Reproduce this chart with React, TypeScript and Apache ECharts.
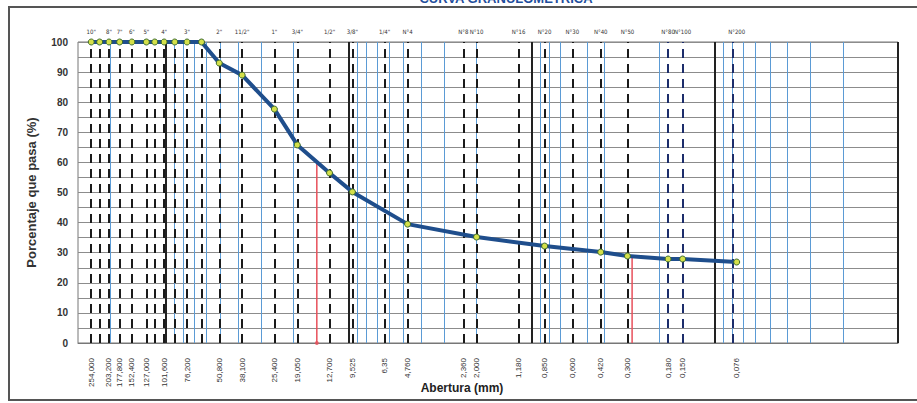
import React, { useEffect, useRef } from "react";
import * as echarts from "echarts";

// Sieve openings that carry labels (mm) and their labels
const labeledSizes = [254, 203.2, 177.8, 152.4, 127, 101.6, 76.2, 50.8, 38.1, 25.4, 19.05, 12.7, 9.525, 6.35, 4.76, 2.36, 2.0, 1.18, 0.85, 0.6, 0.42, 0.3, 0.18, 0.15, 0.076];
const topLabels = ['10"', '8"', '7"', '6"', '5"', '4"', '3"', '2"', '11/2"', '1"', '3/4"', '1/2"', '3/8"', '1/4"', 'N°4', 'N°8', 'N°10', 'N°16', 'N°20', 'N°30', 'N°40', 'N°50', 'N°80', 'N°100', 'N°200'];
const bottomLabels = ['254,000', '203,200', '177,800', '152,400', '127,000', '101,600', '76,200', '50,800', '38,100', '25,400', '19,050', '12,700', '9,525', '6,35', '4,760', '2,360', '2,000', '1,180', '0,850', '0,600', '0,420', '0,300', '0,180', '0,150', '0,076'];

// Sieve lines (dashed)
const sieveLinesBlack = [254, 228.6, 203.2, 177.8, 152.4, 127, 114.3, 101.6, 88.9, 76.2, 63.5, 50.8, 38.1, 25.4, 19.05, 12.7, 9.525, 6.35, 4.76, 2.36, 2.0, 1.18, 0.85, 0.6, 0.42, 0.3];
const sieveLinesNavy = [0.18, 0.15, 0.076];
// Decade lines (solid) and log minor grid (blue)
const decadeLines = [100, 10, 1, 0.1];
const minorLines = [
  200, 90, 80, 70, 60, 50, 40, 30, 20,
  9, 8, 7, 6, 5, 4, 3, 2,
  0.9, 0.8, 0.7, 0.5, 0.4, 0.2,
  0.09, 0.08, 0.07, 0.06, 0.05, 0.04, 0.03, 0.02,
];

// Grading curve
const curveSizes = [254, 228.6, 203.2, 177.8, 152.4, 127, 114.3, 101.6, 88.9, 76.2, 63.5, 50.8, 38.1, 25.4, 19.05, 12.7, 9.525, 4.76, 2.0, 0.85, 0.42, 0.3, 0.18, 0.15, 0.076];
const curvePass = [100, 100, 100, 100, 100, 100, 100, 100, 100, 100, 100, 93.0, 89.0, 77.7, 65.8, 56.5, 50.2, 39.5, 35.2, 32.2, 30.2, 28.9, 27.9, 27.9, 26.9];

// D60 / D30 markers
const d60 = [14.9, 59.8];
const d30 = [0.283, 28.8];

const FONT = "'Liberation Sans', Arial, sans-serif";
const NARROW = "'Liberation Sans Narrow', 'DejaVu Sans Condensed', 'Liberation Sans', sans-serif";

function nearestIndex(v: number) {
  let best = 0;
  let bd = Infinity;
  labeledSizes.forEach((s, i) => {
    const d = Math.abs(Math.log(s) - Math.log(v));
    if (d < bd) { bd = d; best = i; }
  });
  return best;
}

export default function App() {
  const ref = useRef<HTMLDivElement>(null);
  useEffect(() => {
    document.body.style.margin = "0";
    const chart = echarts.init(ref.current!, null, { renderer: "svg" });
    const xBase = {
      type: "log" as const,
      logBase: 10,
      min: 0.01,
      max: 300,
      inverse: true,
    };
    const vline = (vals: number[], style: any) =>
      vals.map((v) => ({ xAxis: v, lineStyle: style }));
    chart.setOption({
      animation: false,
      backgroundColor: "#ffffff",
      grid: { left: 78, top: 42, width: 820, height: 301, show: true, borderColor: "#777", borderWidth: 1 },
      xAxis: [
        {
          ...xBase,
          position: "bottom",
          axisLine: { show: true, lineStyle: { color: "#777" } },
          axisTick: { show: false },
          splitLine: { show: false },
          minorSplitLine: { show: false },
          axisLabel: {
            customValues: labeledSizes,
            rotate: 90,
            fontSize: 8,
            margin: 15,
            color: "#333",
            fontFamily: FONT,
            formatter: (v: number) => bottomLabels[nearestIndex(v)],
          },
        },
        {
          ...xBase,
          position: "top",
          axisLine: { show: false },
          axisTick: { show: false },
          splitLine: { show: false },
          axisLabel: {
            customValues: labeledSizes,
            fontSize: 6,
            margin: 8,
            color: "#333",
            fontFamily: NARROW,
            formatter: (v: number) => topLabels[nearestIndex(v)],
          },
        },
      ],
      yAxis: {
        type: "value",
        min: 0,
        max: 100,
        interval: 10,
        name: "Porcentaje que pasa (%)",
        nameLocation: "middle",
        nameGap: 40,
        nameTextStyle: { fontSize: 13, fontWeight: "bold", color: "#333", fontFamily: FONT },
        axisLine: { show: false },
        axisTick: { show: false },
        axisLabel: { fontSize: 10, fontWeight: "bold", color: "#333", margin: 10, fontFamily: FONT },
        splitLine: { show: true, lineStyle: { color: "#8c8c8c", width: 1 } },
        minorTick: { show: false, splitNumber: 2 },
        minorSplitLine: { show: true, lineStyle: { color: "#8c8c8c", width: 1 } },
      },
      series: [
        {
          type: "line",
          data: [],
          z: 1,
          silent: true,
          markLine: {
            silent: true,
            symbol: ["none", "none"],
            label: { show: false },
            animation: false,
            data: [
              ...vline(minorLines, { color: "#5b9bd5", width: 1, type: "solid" }),
              ...vline(decadeLines, { color: "#222", width: 2, type: "solid" }),
              ...vline(sieveLinesBlack, { color: "#1a1a1a", width: 2, type: [9, 6] }),
              ...vline(sieveLinesNavy, { color: "#1c2d6b", width: 2, type: [9, 6] }),
              ...vline([0.01], { color: "#222", width: 2, type: "solid" }),
            ],
          },
        },
        {
          type: "line",
          data: [[d60[0], 0], [d60[0], d60[1]]],
          z: 3,
          symbol: "none",
          lineStyle: { color: "#e8505b", width: 1.5 },
        },
        {
          type: "line",
          data: [[d30[0], 0], [d30[0], d30[1]]],
          z: 3,
          symbol: "none",
          lineStyle: { color: "#e8505b", width: 1.5 },
        },
        {
          type: "scatter",
          data: [[d60[0], 0]],
          z: 4,
          symbolSize: 4,
          itemStyle: { color: "#e8505b" },
        },
        {
          type: "line",
          z: 10,
          data: curveSizes.map((s, i) => [s, curvePass[i]]),
          symbol: "circle",
          symbolSize: 6,
          lineStyle: { color: "#1f4e8c", width: 4 },
          itemStyle: { color: "#d4e04a", borderColor: "#3c6b2c", borderWidth: 1 },
        },
      ],
      graphic: [
        {
          type: "rect",
          shape: { x: 9, y: 7, width: 920, height: 393 },
          style: { fill: "none", stroke: "#555", lineWidth: 2 },
          silent: true,
        },
        {
          type: "text",
          x: 506,
          y: 5,
          style: {
            text: "CURVA GRANULOMETRICA",
            fill: "#1f4e9c",
            font: `bold 13px ${FONT}`,
            textAlign: "center",
            textVerticalAlign: "bottom",
          },
        },
        {
          type: "text",
          x: 462,
          y: 388,
          style: {
            text: "Abertura (mm)",
            fill: "#222",
            font: `bold 12px ${FONT}`,
            textAlign: "center",
            textVerticalAlign: "middle",
          },
        },
      ],
    });
    return () => chart.dispose();
  }, []);
  return <div ref={ref} style={{ position: "absolute", left: 0, top: 0, width: 917, height: 403 }} />;
}
